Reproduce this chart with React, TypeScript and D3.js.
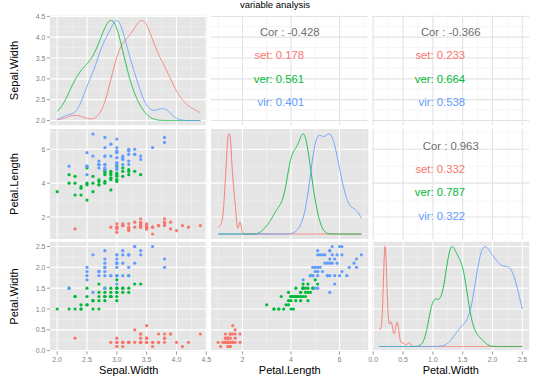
import React from 'react';
import * as d3 from 'd3';

// iris data (R order): setosa 1-50, versicolor 51-100, virginica 101-150
const sepalWidth = [
  3.5,3.0,3.2,3.1,3.6,3.9,3.4,3.4,2.9,3.1,3.7,3.4,3.0,3.0,4.0,4.4,3.9,3.5,3.8,3.8,
  3.4,3.7,3.6,3.3,3.4,3.0,3.4,3.5,3.4,3.2,3.1,3.4,4.1,4.2,3.1,3.2,3.5,3.6,3.0,3.4,
  3.5,2.3,3.2,3.5,3.8,3.0,3.8,3.2,3.7,3.3,
  3.2,3.2,3.1,2.3,2.8,2.8,3.3,2.4,2.9,2.7,2.0,3.0,2.2,2.9,2.9,3.1,3.0,2.7,2.2,2.5,
  3.2,2.8,2.5,2.8,2.9,3.0,2.8,3.0,2.9,2.6,2.4,2.4,2.7,2.7,3.0,3.4,3.1,2.3,3.0,2.5,
  2.6,3.0,2.6,2.3,2.7,3.0,2.9,2.9,2.5,2.8,
  3.3,2.7,3.0,2.9,3.0,3.0,2.5,2.9,2.5,3.6,3.2,2.7,3.0,2.5,2.8,3.2,3.0,3.8,2.6,2.2,
  3.2,2.8,2.8,2.7,3.3,3.2,2.8,3.0,2.8,3.0,2.8,3.8,2.8,2.8,2.6,3.0,3.4,3.1,3.0,3.1,
  3.1,3.1,2.7,3.2,3.3,3.0,2.5,3.0,3.4,3.0,
];
const petalLength = [
  1.4,1.4,1.3,1.5,1.4,1.7,1.4,1.5,1.4,1.5,1.5,1.6,1.4,1.1,1.2,1.5,1.3,1.4,1.7,1.5,
  1.7,1.5,1.0,1.7,1.9,1.6,1.6,1.5,1.4,1.6,1.6,1.5,1.5,1.4,1.5,1.2,1.3,1.4,1.3,1.5,
  1.3,1.3,1.3,1.6,1.9,1.4,1.6,1.4,1.5,1.4,
  4.7,4.5,4.9,4.0,4.6,4.5,4.7,3.3,4.6,3.9,3.5,4.2,4.0,4.7,3.6,4.4,4.5,4.1,4.5,3.9,
  4.8,4.0,4.9,4.7,4.3,4.4,4.8,5.0,4.5,3.5,3.8,3.7,3.9,5.1,4.5,4.5,4.7,4.4,4.1,4.0,
  4.4,4.6,4.0,3.3,4.2,4.2,4.2,4.3,3.0,4.1,
  6.0,5.1,5.9,5.6,5.8,6.6,4.5,6.3,5.8,6.1,5.1,5.3,5.5,5.0,5.1,5.3,5.5,6.7,6.9,5.0,
  5.7,4.9,6.7,4.9,5.7,6.0,4.8,4.9,5.6,5.8,6.1,6.4,5.6,5.1,5.6,6.1,5.6,5.5,4.8,5.4,
  5.6,5.1,5.1,5.9,5.7,5.2,5.0,5.2,5.4,5.1,
];
const petalWidth = [
  0.2,0.2,0.2,0.2,0.2,0.4,0.3,0.2,0.2,0.1,0.2,0.2,0.1,0.1,0.2,0.4,0.4,0.3,0.3,0.3,
  0.2,0.4,0.2,0.5,0.2,0.2,0.4,0.2,0.2,0.2,0.2,0.4,0.1,0.2,0.2,0.2,0.2,0.1,0.2,0.2,
  0.3,0.3,0.2,0.6,0.4,0.3,0.2,0.2,0.2,0.2,
  1.4,1.5,1.5,1.3,1.5,1.3,1.6,1.0,1.3,1.4,1.0,1.5,1.0,1.4,1.3,1.4,1.5,1.0,1.5,1.1,
  1.8,1.3,1.5,1.2,1.3,1.4,1.4,1.7,1.5,1.0,1.1,1.0,1.2,1.6,1.5,1.6,1.5,1.3,1.3,1.3,
  1.2,1.4,1.2,1.0,1.3,1.2,1.3,1.3,1.1,1.3,
  2.5,1.9,2.1,1.8,2.2,2.1,1.7,1.8,1.8,2.5,2.0,1.9,2.1,2.0,2.4,2.3,1.8,2.2,2.3,1.5,
  2.3,2.0,2.0,1.8,2.1,1.8,1.8,1.8,2.1,1.6,1.9,2.0,2.2,1.5,1.4,2.3,2.4,1.8,1.8,2.1,
  2.4,2.3,1.9,2.3,2.5,2.3,1.9,2.0,2.3,1.8,
];
const speciesNames = ['setosa', 'versicolor', 'virginica'];
const speciesColors = ['#F8766D', '#00BA38', '#619CFF'];
const speciesSize = 50;

const varNames = ['Sepal.Width', 'Petal.Length', 'Petal.Width'];
const sepalWidthTicks = [2.0, 2.5, 3.0, 3.5, 4.0, 4.5];
const petalLengthTicks = [2, 4, 6];
const petalWidthTicks = [0.0, 0.5, 1.0, 1.5, 2.0, 2.5];
const tickDigits = [1, 0, 1];

// correlation labels: [row, col]
const corPanels = [[0, 1], [0, 2], [1, 2]];
const corTotal = ['-0.428', '-0.366', '0.963'];
const corSetosa = ['0.178', '0.233', '0.332'];
const corVersicolor = ['0.561', '0.664', '0.787'];
const corVirginica = ['0.401', '0.538', '0.322'];
const groupAbbr = ['set', 'ver', 'vir'];

const title = 'variable analysis';

const colX = [50, 211, 372];
const rowY = [15.5, 129, 241.5];
const PW = 157.5;
const PH = 110;
const FONT = 'Liberation Sans, Arial, sans-serif';

const vars = [sepalWidth, petalLength, petalWidth];
const varTicks = [sepalWidthTicks, petalLengthTicks, petalWidthTicks];
const speciesOf = (i: number) => Math.floor(i / speciesSize);

function expanded(v: number[]) {
  const [a, b] = d3.extent(v) as [number, number];
  const p = (b - a) * 0.05;
  return [a - p, b + p];
}

function minorTicks(ticks: number[], domain: number[]) {
  const step = ticks[1] - ticks[0];
  const out: number[] = [];
  for (let t = ticks[0] - step / 2; t <= domain[1]; t += step) {
    if (t >= domain[0]) out.push(t);
  }
  return out;
}

function bwNrd0(x: number[]) {
  const s = [...x].sort((a, b) => a - b);
  const hi = d3.deviation(s) as number;
  const iqr = (d3.quantileSorted(s, 0.75) as number) - (d3.quantileSorted(s, 0.25) as number);
  let lo = Math.min(hi, iqr / 1.34);
  if (!(lo > 0)) lo = hi || Math.abs(s[0]) || 1;
  return 0.9 * lo * Math.pow(s.length, -0.2);
}

function kde(x: number[], from: number, to: number, n = 512) {
  const bw = bwNrd0(x);
  const pts: [number, number][] = [];
  for (let i = 0; i < n; i++) {
    const g = from + ((to - from) * i) / (n - 1);
    let s = 0;
    for (const xi of x) {
      const z = (g - xi) / bw;
      s += Math.exp(-0.5 * z * z);
    }
    pts.push([g, s / (x.length * bw * Math.sqrt(2 * Math.PI))]);
  }
  const m = d3.max(pts, (p) => p[1]) as number;
  return pts.map(([g, d]) => [g, d / m] as [number, number]);
}

export default function App() {
  const xScales = vars.map((v, c) => d3.scaleLinear().domain(expanded(v)).range([colX[c], colX[c] + PW]));
  const yScales = vars.map((v, r) => d3.scaleLinear().domain(expanded(v)).range([rowY[r] + PH, rowY[r]]));

  const panels: React.ReactNode[] = [];
  for (let r = 0; r < 3; r++) {
    for (let c = 0; c < 3; c++) {
      const xs = xScales[c];
      const ys = yScales[r];
      const upper = r < c;
      const key = `p${r}${c}`;
      const xDom = xs.domain();
      const yDom = ys.domain();
      const xMinor = minorTicks(varTicks[c], xDom);
      const yMinor = minorTicks(varTicks[r], yDom);
      const bg = upper ? '#FFFFFF' : '#E5E5E5';
      const majorCol = upper ? '#E3E3E3' : '#FFFFFF';
      const minorCol = upper ? '#F0F0F0' : '#F2F2F2';
      const content: React.ReactNode[] = [];
      content.push(<rect key="bg" x={colX[c]} y={rowY[r]} width={PW} height={PH} fill={bg} />);
      xMinor.forEach((t, i) => content.push(
        <line key={`xm${i}`} x1={xs(t)} x2={xs(t)} y1={rowY[r]} y2={rowY[r] + PH} stroke={minorCol} strokeWidth={0.6} />));
      yMinor.forEach((t, i) => content.push(
        <line key={`ym${i}`} y1={ys(t)} y2={ys(t)} x1={colX[c]} x2={colX[c] + PW} stroke={minorCol} strokeWidth={0.6} />));
      varTicks[c].forEach((t, i) => content.push(
        <line key={`xM${i}`} x1={xs(t)} x2={xs(t)} y1={rowY[r]} y2={rowY[r] + PH} stroke={majorCol} strokeWidth={1.1} />));
      varTicks[r].forEach((t, i) => content.push(
        <line key={`yM${i}`} y1={ys(t)} y2={ys(t)} x1={colX[c]} x2={colX[c] + PW} stroke={majorCol} strokeWidth={1.1} />));

      if (r === c) {
        const v = vars[c];
        const [lo, hi] = d3.extent(v) as [number, number];
        speciesNames.forEach((_, s) => {
          const sub = v.filter((_, i) => speciesOf(i) === s);
          const dens = kde(sub, lo, hi);
          const line = d3.line<[number, number]>()
            .x((p) => xs(p[0]))
            .y((p) => ys(lo + p[1] * (hi - lo)));
          content.push(<path key={`d${s}`} d={line(dens) as string} fill="none" stroke={speciesColors[s]} strokeWidth={0.9} />);
        });
      } else if (r > c) {
        vars[c].forEach((xv, i) => content.push(
          <circle key={`pt${i}`} cx={xs(xv)} cy={ys(vars[r][i])} r={1.6} fill={speciesColors[speciesOf(i)]} />));
      } else {
        const k = corPanels.findIndex(([a, b]) => a === r && b === c);
        const [xlo, xhi] = d3.extent(vars[c]) as [number, number];
        const [ylo, yhi] = d3.extent(vars[r]) as [number, number];
        const yPos = [0.9, 2.0 / 3 + 0.0, 0.4333, 0.2].map((f) => ys(ylo + f * (yhi - ylo)) + 5.6);
        const xMid = xs((xlo + xhi) / 2);
        const xRight = xs(xlo + 0.6 * (xhi - xlo));
        content.push(<text key="cor" x={xMid} y={yPos[0]} textAnchor="middle" fontSize={11.3} fill="#6E6E6E" fontFamily={FONT}>{`Cor : ${corTotal[k]}`}</text>);
        const vals = [corSetosa[k], corVersicolor[k], corVirginica[k]];
        vals.forEach((val, s) => content.push(
          <text key={`g${s}`} x={xRight} y={yPos[s + 1]} textAnchor="end" fontSize={11.3} fill={speciesColors[s]} fontFamily={FONT}>{`${groupAbbr[s]}: ${val}`}</text>));
      }
      panels.push(
        <g key={key}>
          <clipPath id={`clip${key}`}><rect x={colX[c]} y={rowY[r]} width={PW} height={PH} /></clipPath>
          <g clipPath={`url(#clip${key})`}>{content}</g>
        </g>
      );
    }
  }

  const axes: React.ReactNode[] = [];
  // left axes
  for (let r = 0; r < 3; r++) {
    const ys = yScales[r];
    varTicks[r].forEach((t, i) => {
      axes.push(<line key={`lt${r}${i}`} x1={colX[0] - 3} x2={colX[0]} y1={ys(t)} y2={ys(t)} stroke="#7F7F7F" strokeWidth={0.8} />);
      axes.push(<text key={`ll${r}${i}`} x={colX[0] - 4.5} y={ys(t) + 2.5} textAnchor="end" fontSize={7} fill="#7F7F7F" fontFamily={FONT}>{t.toFixed(tickDigits[r])}</text>);
    });
    axes.push(<text key={`lt${r}`} transform={`translate(17.5,${rowY[r] + PH / 2}) rotate(-90)`} textAnchor="middle" fontSize={11} fill="#000" fontFamily={FONT}>{varNames[r]}</text>);
  }
  // bottom axes
  const yb = rowY[2] + PH;
  for (let c = 0; c < 3; c++) {
    const xs = xScales[c];
    varTicks[c].forEach((t, i) => {
      axes.push(<line key={`bt${c}${i}`} x1={xs(t)} x2={xs(t)} y1={yb} y2={yb + 3} stroke="#7F7F7F" strokeWidth={0.8} />);
      axes.push(<text key={`bl${c}${i}`} x={xs(t)} y={yb + 10} textAnchor="middle" fontSize={7} fill="#7F7F7F" fontFamily={FONT}>{t.toFixed(tickDigits[c])}</text>);
    });
    axes.push(<text key={`bx${c}`} x={colX[c] + PW / 2} y={yb + 22.5} textAnchor="middle" fontSize={11} fill="#000" fontFamily={FONT}>{varNames[c]}</text>);
  }

  return (
    <svg width={540} height={381} style={{ position: 'absolute', left: 0, top: 0, background: '#fff' }}>
      <rect x={0} y={0} width={540} height={381} fill="#fff" />
      <text x={275} y={7.5} textAnchor="middle" fontSize={9.5} fill="#000" fontFamily={FONT}>{title}</text>
      {panels}
      {axes}
    </svg>
  );
}
